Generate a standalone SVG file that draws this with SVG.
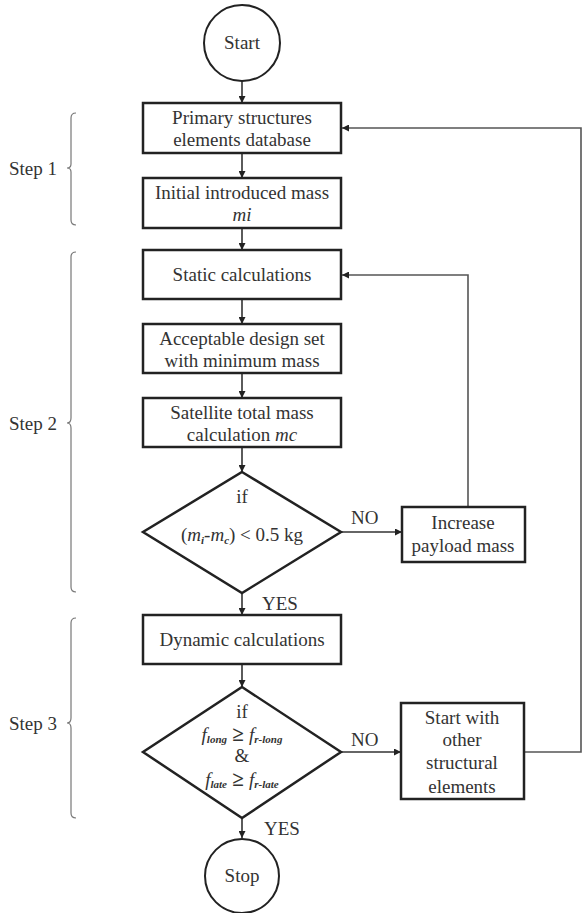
<svg xmlns="http://www.w3.org/2000/svg" width="582" height="913" viewBox="0 0 582 913">
<style>
.box{fill:#fff;stroke:#222;stroke-width:2.5}
.t{font-family:"Liberation Serif","Times New Roman","DejaVu Serif",serif;font-size:19px;fill:#333;text-anchor:middle}
.lbl{font-family:"Liberation Serif","Times New Roman","DejaVu Serif",serif;font-size:19px;fill:#333}
.i{font-style:italic}
.sub{font-style:italic;font-weight:bold;font-size:11px}
.ge{font-size:21px;font-weight:bold}
.c{fill:none;stroke:#333;stroke-width:1.6}
.fb{fill:none;stroke:#555;stroke-width:1.6}
.br{fill:none;stroke:#777;stroke-width:1.2}
</style>
<defs>
<marker id="ah" viewBox="0 0 10 10" refX="10" refY="5" markerWidth="7" markerHeight="7" orient="auto" markerUnits="userSpaceOnUse">
<path d="M0,0 L10,5 L0,10 z" fill="#222"/>
</marker>
</defs>
<rect width="582" height="913" fill="#fff"/>

<g id="connectors">
<line class="c" x1="242" y1="81" x2="242" y2="103" marker-end="url(#ah)"/>
<line class="c" x1="242" y1="153" x2="242" y2="178" marker-end="url(#ah)"/>
<line class="c" x1="242" y1="228" x2="242" y2="250" marker-end="url(#ah)"/>
<line class="c" x1="242" y1="299" x2="242" y2="324" marker-end="url(#ah)"/>
<line class="c" x1="242" y1="373" x2="242" y2="398" marker-end="url(#ah)"/>
<line class="c" x1="242" y1="447" x2="242" y2="472" marker-end="url(#ah)"/>
<line class="c" x1="341" y1="532" x2="402" y2="532" marker-end="url(#ah)"/>
<polyline class="fb" points="468,507 468,275 342,275" marker-end="url(#ah)"/>
<line class="c" x1="242" y1="593" x2="242" y2="615" marker-end="url(#ah)"/>
<line class="c" x1="242" y1="664" x2="242" y2="687" marker-end="url(#ah)"/>
<line class="c" x1="341" y1="752" x2="401" y2="752" marker-end="url(#ah)"/>
<polyline class="fb" points="524,752 581,752 581,128 342,128" marker-end="url(#ah)"/>
<line class="c" x1="242" y1="818" x2="242" y2="838" marker-end="url(#ah)"/>
<text class="lbl" x="351" y="524">NO</text>
<text class="lbl" x="262" y="610">YES</text>
<text class="lbl" x="351" y="746">NO</text>
<text class="lbl" x="264" y="835">YES</text>
</g>

<g id="start">
<circle cx="242" cy="43" r="38" fill="#fff" stroke="#222" stroke-width="2"/>
<text class="t" x="242" y="49">Start</text>
</g>
<g id="database">
<rect class="box" x="143" y="103" width="198" height="50"/>
<text class="t" x="242" y="124">Primary structures</text>
<text class="t" x="242" y="146">elements database</text>
</g>
<g id="initial">
<rect class="box" x="143" y="178" width="198" height="50"/>
<text class="t" x="242" y="199">Initial introduced mass</text>
<text class="t i" x="242" y="221">mi</text>
</g>
<g id="static">
<rect class="box" x="143" y="250" width="198" height="49"/>
<text class="t" x="242" y="281">Static calculations</text>
</g>
<g id="acceptable">
<rect class="box" x="143" y="324" width="198" height="49"/>
<text class="t" x="242" y="345">Acceptable design set</text>
<text class="t" x="242" y="367">with minimum mass</text>
</g>
<g id="satellite">
<rect class="box" x="143" y="398" width="198" height="49"/>
<text class="t" x="242" y="419">Satellite total mass</text>
<text class="t" x="242" y="441">calculation <tspan class="i">mc</tspan></text>
</g>
<g id="decision1">
<polygon class="box" points="242,472 341,532 242,593 143,532"/>
<text class="t" x="242" y="503">if</text>
<text class="t" x="242" y="541">(<tspan class="i">m</tspan><tspan class="sub" dy="3">i</tspan><tspan dy="-3">-</tspan><tspan class="i">m</tspan><tspan class="sub" dy="3">c</tspan><tspan dy="-3">) &lt; 0.5 kg</tspan></text>
</g>
<g id="increase">
<rect class="box" x="402" y="507" width="123" height="55"/>
<text class="t" x="463" y="529">Increase</text>
<text class="t" x="463" y="552">payload mass</text>
</g>
<g id="dynamic">
<rect class="box" x="143" y="615" width="198" height="49"/>
<text class="t" x="242" y="646">Dynamic calculations</text>
</g>
<g id="decision2">
<polygon class="box" points="242,687 341,752 242,818 143,752"/>
<text class="t" x="242" y="718">if</text>
<text class="t" x="242" y="741"><tspan class="i">f</tspan><tspan class="sub" dy="2">long</tspan><tspan class="ge" dy="-2"> ≥ </tspan><tspan class="i">f</tspan><tspan class="sub" dy="2">r-long</tspan></text>
<text class="t" x="242" y="762">&amp;</text>
<text class="t" x="242" y="786"><tspan class="i">f</tspan><tspan class="sub" dy="2">late</tspan><tspan class="ge" dy="-2"> ≥ </tspan><tspan class="i">f</tspan><tspan class="sub" dy="2">r-late</tspan></text>
</g>
<g id="other">
<rect class="box" x="401" y="703" width="123" height="96"/>
<text class="t" x="462" y="724">Start with</text>
<text class="t" x="462" y="746">other</text>
<text class="t" x="462" y="769">structural</text>
<text class="t" x="462" y="793">elements</text>
</g>
<g id="stop">
<circle cx="242" cy="876" r="37" fill="#fff" stroke="#222" stroke-width="2"/>
<text class="t" x="242" y="882">Stop</text>
</g>

<g id="steps">
<path class="br" d="M76,113 Q71,113 71,118 L71,164 Q71,168 67,168 Q71,168 71,172 L71,220 Q71,225 76,225"/>
<text class="lbl" x="9" y="175">Step 1</text>
<path class="br" d="M76,252 Q71,252 71,257 L71,418 Q71,423 67,423 Q71,423 71,428 L71,587 Q71,592 76,592"/>
<text class="lbl" x="9" y="430">Step 2</text>
<path class="br" d="M76,618 Q71,618 71,623 L71,718 Q71,723 67,723 Q71,723 71,728 L71,813 Q71,818 76,818"/>
<text class="lbl" x="9" y="730">Step 3</text>
</g>
</svg>
